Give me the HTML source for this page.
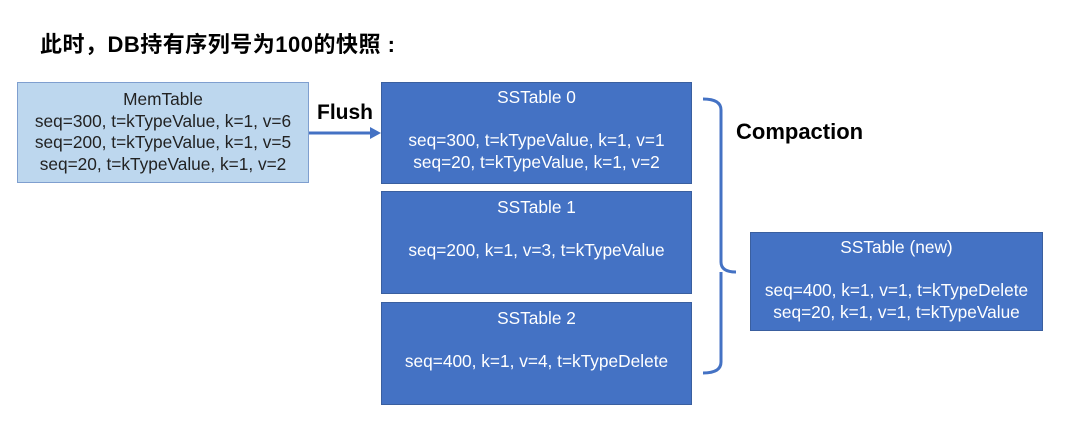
<!DOCTYPE html>
<html><head><meta charset="utf-8"><style>
body{margin:0;width:1080px;height:424px;background:#fff;position:relative;overflow:hidden;font-family:"Liberation Sans","Noto Sans CJK SC",sans-serif}
.b{position:absolute;box-sizing:border-box;text-align:center;font-size:17.3px;line-height:21.5px;white-space:nowrap}
.ss{background:#4472c4;border:1px solid #3a5f9f;color:#fff}
.t{position:absolute;font-weight:bold;color:#000;white-space:nowrap}
</style></head><body>
<div class="t" style="left:40px;top:27px;font-size:22px;letter-spacing:0.5px">此时，DB持有序列号为100的快照 :</div>
<div class="b" style="left:17px;top:82px;width:292px;height:101px;background:#bdd7ee;border:1px solid #7f9fcf;color:#222;padding-top:6px">MemTable<br>seq=300, t=kTypeValue, k=1, v=6<br>seq=200, t=kTypeValue, k=1, v=5<br>seq=20, t=kTypeValue, k=1, v=2</div>
<div class="t" style="left:317px;top:101px;font-size:21px">Flush</div>
<svg style="position:absolute;left:0;top:0" width="1080" height="424">
<line x1="309" y1="133" x2="372" y2="133" stroke="#4472c4" stroke-width="3"/>
<polygon points="370,127 381,133 370,139" fill="#4472c4"/>
<path d="M703,99 Q721,99 721,110 L721,262 Q721,272 736,272 M721,272 Q721,282 721,290 L721,362 Q721,373 703,373" fill="none" stroke="#4472c4" stroke-width="3"/>
</svg>
<div class="b ss" style="left:381px;top:82px;width:311px;height:102px;padding-top:4px">SSTable 0<br><br>seq=300, t=kTypeValue, k=1, v=1<br>seq=20, t=kTypeValue, k=1, v=2</div>
<div class="b ss" style="left:381px;top:191px;width:311px;height:103px;padding-top:5px">SSTable 1<br><br>seq=200, k=1, v=3, t=kTypeValue</div>
<div class="b ss" style="left:381px;top:302px;width:311px;height:103px;padding-top:5px">SSTable 2<br><br>seq=400, k=1, v=4, t=kTypeDelete</div>
<div class="t" style="left:736px;top:119px;font-size:22px">Compaction</div>
<div class="b ss" style="left:750px;top:232px;width:293px;height:99px;padding-top:4px">SSTable (new)<br><br>seq=400, k=1, v=1, t=kTypeDelete<br>seq=20, k=1, v=1, t=kTypeValue</div>
</body></html>
